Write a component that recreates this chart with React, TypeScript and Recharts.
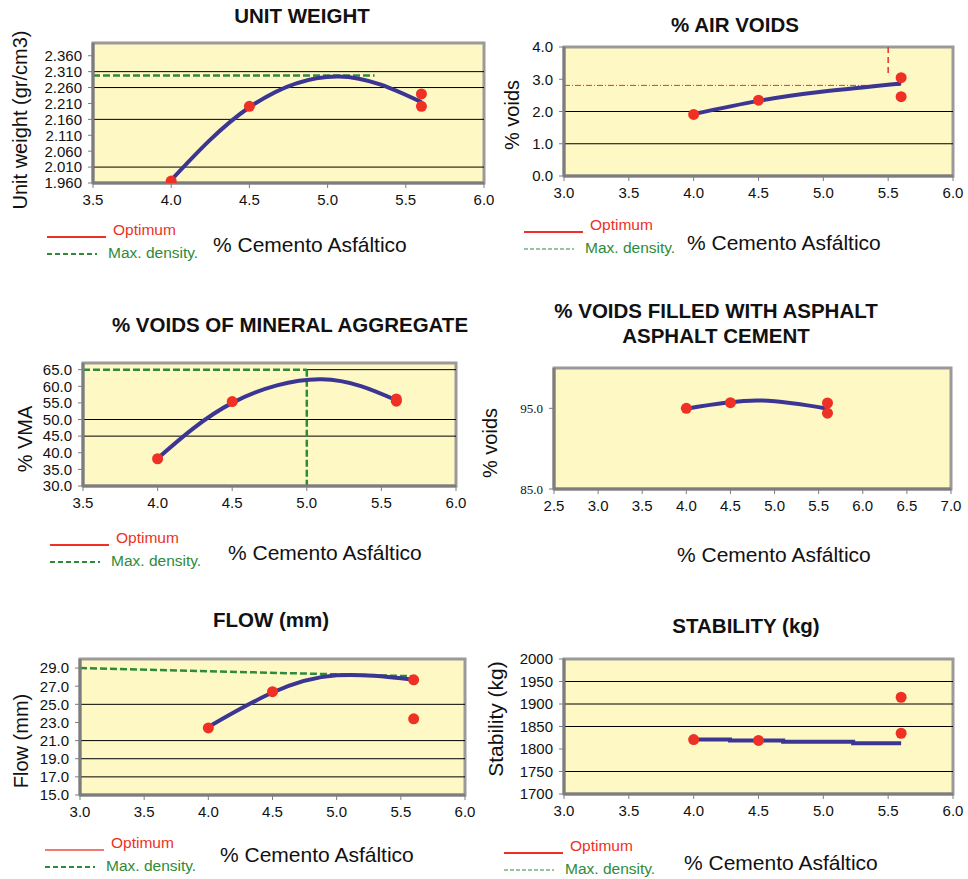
import React from 'react'
import { ComposedChart, Line, Scatter, XAxis, YAxis, CartesianGrid, ReferenceLine, ReferenceArea } from 'recharts'

const SANS = '"Liberation Sans", Arial, sans-serif'
const SERIF = '"Liberation Serif", "Times New Roman", serif'
const BG = '#FEF8C4'
const RED = '#EE3124'
const BLUE = '#3B3594'
const GREEN = '#2E8B3A'

// unit weight
const uwDotX = [4.0, 4.5, 5.6, 5.6]
const uwDotY = [1.966, 2.201, 2.24, 2.201]
const uwCurveX = [4.0, 4.5, 5.07, 5.6]
const uwCurveY = [1.969, 2.198, 2.295, 2.214]
const uwYTicks = [1.96, 2.01, 2.06, 2.11, 2.16, 2.21, 2.26, 2.31, 2.36]
const uwGrid = [2.01, 2.16, 2.26, 2.31]
const uwMaxDensity = 2.298

// air voids
const avDotX = [4.0, 4.5, 5.6, 5.6]
const avDotY = [1.91, 2.35, 3.05, 2.46]
const avCurveX = [4.0, 4.5, 5.0, 5.6]
const avCurveY = [1.92, 2.33, 2.62, 2.87]
const avYTicks = [0, 1, 2, 3, 4]
const avGrid = [1, 2]
const avOptimum = 2.81
const avOptimumX = 5.5

// VMA
const vmaDotX = [4.0, 4.5, 5.6, 5.6]
const vmaDotY = [38.2, 55.4, 55.5, 56.2]
const vmaCurveX = [4.0, 4.5, 5.1, 5.6]
const vmaCurveY = [38.3, 55.0, 62.1, 55.8]
const vmaYTicks = [30, 35, 40, 45, 50, 55, 60, 65]
const vmaGrid = [45, 50]
const vmaMaxDensity = 65
const vmaMaxX = 5.0

// VFA
const vfaDotX = [4.0, 4.5, 5.6, 5.6]
const vfaDotY = [95.0, 95.7, 95.66, 94.4]
const vfaCurveX = [4.0, 4.8, 5.6]
const vfaCurveY = [94.96, 95.98, 94.96]
const vfaYTicks = [85, 95]
const vfaXTicks = [2.5, 3, 3.5, 4, 4.5, 5, 5.5, 6, 6.5, 7]

// flow
const flDotX = [4.0, 4.5, 5.6, 5.6]
const flDotY = [22.4, 26.4, 27.7, 23.4]
const flCurveX = [4.0, 4.5, 5.0, 5.6]
const flCurveY = [22.5, 26.3, 28.2, 27.7]
const flYTicks = [15, 17, 19, 21, 23, 25, 27, 29]
const flGrid = [17, 19, 21, 25]
const flMaxX = [3.0, 5.6]
const flMaxY = [29.0, 28.1]

// stability
const stDotX = [4.0, 4.5, 5.6, 5.6]
const stDotY = [1821, 1819, 1915, 1835]
const stCurveX = [4.0, 4.28, 4.69, 5.23, 5.6]
const stCurveY = [1821, 1819, 1816, 1813, 1813]
const stYTicks = [1700, 1750, 1800, 1850, 1900, 1950, 2000]
const stGrid = [1750, 1850, 1900, 1950]

const xTicks30 = [3, 3.5, 4, 4.5, 5, 5.5, 6]
const xTicks35 = [3.5, 4, 4.5, 5, 5.5, 6]

const zip = (xs: number[], ys: number[]) => xs.map((x, i) => ({ x, y: ys[i] }))

type Pt = { x: number; y: number }
type Seg = { a: Pt; b: Pt; stroke: string; width: number; dash?: string }

interface PanelProps {
  left: number
  top: number
  width: number
  height: number
  xDomain: [number, number]
  xTicks: number[]
  yDomain: [number, number]
  yTicks: number[]
  yDigits: number
  grid: number[]
  segs?: Seg[]
  dots: Pt[]
  curve: Pt[]
  curveType?: 'natural' | 'stepAfter' | 'linear'
  serifY?: boolean
}

const YW = 80
const MT = 10
const MR = 12
const XH = 44

const dotShape = (props: any) => <circle cx={props.cx} cy={props.cy} r={5.5} fill={RED} />

function Panel(p: PanelProps) {
  const tickStyle = { fontSize: 15, fontFamily: SANS, fill: '#111' }
  const yTickStyle = p.serifY ? { fontSize: 13, fontFamily: SERIF, fill: '#111' } : tickStyle
  return (
    <div style={{ position: 'absolute', left: p.left - YW, top: p.top - MT }}>
      <ComposedChart
        width={YW + p.width + MR}
        height={MT + p.height + XH}
        margin={{ top: MT, right: MR, bottom: 0, left: 0 }}
      >
        <CartesianGrid horizontal={false} vertical={false} fill={BG} />
        {p.grid.map((v) => (
          <ReferenceLine key={v} y={v} stroke="#000" strokeWidth={1} />
        ))}
        {(p.segs || []).map((s, i) => (
          <ReferenceLine
            key={'s' + i}
            segment={[s.a, s.b]}
            stroke={s.stroke}
            strokeWidth={s.width}
            strokeDasharray={s.dash}
            ifOverflow="visible"
          />
        ))}
        <ReferenceArea
          x1={p.xDomain[0]}
          x2={p.xDomain[1]}
          y1={p.yDomain[0]}
          y2={p.yDomain[1]}
          fill="none"
          stroke="#9a9a9a"
          strokeWidth={3}
          ifOverflow="visible"
        />
        <XAxis
          type="number"
          dataKey="x"
          domain={p.xDomain}
          ticks={p.xTicks}
          interval={0}
          allowDataOverflow
          height={XH}
          tickFormatter={(v: number) => v.toFixed(1)}
          tick={tickStyle}
          tickSize={5}
          tickMargin={6}
          axisLine={{ stroke: '#7d7d7d', strokeWidth: 3 }}
          tickLine={{ stroke: '#7d7d7d' }}
        />
        <YAxis
          type="number"
          dataKey="y"
          domain={p.yDomain}
          ticks={p.yTicks}
          interval={0}
          allowDataOverflow
          width={YW}
          tickFormatter={(v: number) => v.toFixed(p.yDigits)}
          tick={yTickStyle}
          tickSize={5}
          tickMargin={6}
          axisLine={{ stroke: '#7d7d7d', strokeWidth: 3 }}
          tickLine={{ stroke: '#7d7d7d' }}
        />
        <Line
          data={p.curve}
          dataKey="y"
          type={p.curveType || 'natural'}
          stroke={BLUE}
          strokeWidth={4}
          dot={false}
          activeDot={false}
          isAnimationActive={false}
        />
        <Scatter data={p.dots} fill={RED} shape={dotShape} isAnimationActive={false} />
      </ComposedChart>
    </div>
  )
}

function LegendBox({ x, y, thinGreen, lightRed }: { x: number; y: number; thinGreen?: boolean; lightRed?: boolean }) {
  // x,y = start of the red line sample
  return (
    <g>
      <line x1={x} y1={y} x2={x + 59} y2={y} stroke={lightRed ? '#F07A70' : RED} strokeWidth={2} />
      <text x={x + 66} y={y - 2} fill={RED} fontSize={15.5} fontFamily={SANS}>
        Optimum
      </text>
      <line
        x1={x}
        y1={y + 17}
        x2={x + 50}
        y2={y + 17}
        stroke={GREEN}
        strokeWidth={thinGreen ? 1 : 2}
        strokeDasharray={thinGreen ? '4 2' : '5 3'}
      />
      <text x={x + 61} y={y + 21} fill={GREEN} fontSize={15.5} fontFamily={SANS}>
        Max. density.
      </text>
    </g>
  )
}

function Overlay() {
  const title = { fontSize: 20.5, fontWeight: 700, fontFamily: SANS, fill: '#111', textAnchor: 'middle' as const }
  const ylab = { fontSize: 20, fontFamily: SANS, fill: '#111', textAnchor: 'middle' as const }
  const xlab = { fontSize: 21, fontFamily: SANS, fill: '#111' }
  const xl = '% Cemento Asfáltico'
  return (
    <svg width={968} height={879} style={{ position: 'absolute', left: 0, top: 0, pointerEvents: 'none' }}>
      <text x={302} y={23} {...title}>UNIT WEIGHT</text>
      <text x={735} y={32} {...title}>% AIR VOIDS</text>
      <text x={290} y={332} {...title}>% VOIDS OF MINERAL AGGREGATE</text>
      <text x={716} y={318} {...title}>% VOIDS FILLED WITH ASPHALT</text>
      <text x={716} y={343} {...title}>ASPHALT CEMENT</text>
      <text x={271} y={627} {...title}>FLOW (mm)</text>
      <text x={746} y={633} {...title}>STABILITY (kg)</text>

      <text transform="translate(27,120) rotate(-90)" {...ylab}>Unit weight (gr/cm3)</text>
      <text transform="translate(519,115) rotate(-90)" {...ylab}>% voids</text>
      <text transform="translate(32,439) rotate(-90)" {...ylab}>% VMA</text>
      <text transform="translate(497,443) rotate(-90)" {...ylab}>% voids</text>
      <text transform="translate(28,741) rotate(-90)" {...ylab}>Flow (mm)</text>
      <text transform="translate(503,719) rotate(-90)" {...ylab} fontSize={21}>Stability (kg)</text>

      <text x={213} y={252} {...xlab}>{xl}</text>
      <text x={687} y={250} {...xlab}>{xl}</text>
      <text x={228} y={560} {...xlab}>{xl}</text>
      <text x={677} y={562} {...xlab}>{xl}</text>
      <text x={220} y={862} {...xlab}>{xl}</text>
      <text x={684} y={870} {...xlab}>{xl}</text>

      <LegendBox x={47} y={237} />
      <LegendBox x={524} y={232} thinGreen />
      <LegendBox x={50} y={545} />
      <LegendBox x={45} y={850} lightRed />
      <LegendBox x={504} y={853} thinGreen />
    </svg>
  )
}

export default function App() {
  return (
    <div style={{ position: 'absolute', left: 0, top: 0, width: 968, height: 879, background: '#fff', overflow: 'hidden' }}>
      <Panel
        left={93}
        top={43}
        width={391}
        height={140}
        xDomain={[3.5, 6]}
        xTicks={xTicks35}
        yDomain={[1.96, 2.4]}
        yTicks={uwYTicks}
        yDigits={3}
        grid={uwGrid}
        segs={[{ a: { x: 3.5, y: uwMaxDensity }, b: { x: 5.3, y: uwMaxDensity }, stroke: GREEN, width: 2.5, dash: '7 3' }]}
        dots={zip(uwDotX, uwDotY)}
        curve={zip(uwCurveX, uwCurveY)}
      />
      <Panel
        left={564}
        top={47}
        width={389}
        height={129}
        xDomain={[3, 6]}
        xTicks={xTicks30}
        yDomain={[0, 4]}
        yTicks={avYTicks}
        yDigits={1}
        grid={avGrid}
        segs={[
          { a: { x: 3, y: avOptimum }, b: { x: 5.6, y: avOptimum }, stroke: RED, width: 1, dash: '6 2 1 2' },
          { a: { x: avOptimumX, y: 4 }, b: { x: avOptimumX, y: 3.1 }, stroke: RED, width: 1.5, dash: '6 4' },
        ]}
        dots={zip(avDotX, avDotY)}
        curve={zip(avCurveX, avCurveY)}
      />
      <Panel
        left={83}
        top={363}
        width={373}
        height={123}
        xDomain={[3.5, 6]}
        xTicks={xTicks35}
        yDomain={[30, 67]}
        yTicks={vmaYTicks}
        yDigits={1}
        grid={vmaGrid}
        segs={[
          { a: { x: vmaMaxX, y: vmaMaxDensity }, b: { x: 6, y: vmaMaxDensity }, stroke: '#000', width: 1 },
          { a: { x: 3.5, y: vmaMaxDensity }, b: { x: vmaMaxX, y: vmaMaxDensity }, stroke: GREEN, width: 2.5, dash: '7 3' },
          { a: { x: vmaMaxX, y: vmaMaxDensity }, b: { x: vmaMaxX, y: 30 }, stroke: GREEN, width: 2.5, dash: '7 3' },
        ]}
        dots={zip(vmaDotX, vmaDotY)}
        curve={zip(vmaCurveX, vmaCurveY)}
      />
      <Panel
        left={554}
        top={368}
        width={397}
        height={121}
        xDomain={[2.5, 7]}
        xTicks={vfaXTicks}
        yDomain={[85, 100]}
        yTicks={vfaYTicks}
        yDigits={1}
        grid={[]}
        dots={zip(vfaDotX, vfaDotY)}
        curve={zip(vfaCurveX, vfaCurveY)}
        serifY
      />
      <Panel
        left={80}
        top={659}
        width={385}
        height={136}
        xDomain={[3, 6]}
        xTicks={xTicks30}
        yDomain={[15, 30]}
        yTicks={flYTicks}
        yDigits={1}
        grid={flGrid}
        segs={[
          { a: { x: flMaxX[0], y: flMaxY[0] }, b: { x: flMaxX[1], y: flMaxY[1] }, stroke: GREEN, width: 2.5, dash: '7 3' },
        ]}
        dots={zip(flDotX, flDotY)}
        curve={zip(flCurveX, flCurveY)}
      />
      <Panel
        left={564}
        top={659}
        width={389}
        height={135}
        xDomain={[3, 6]}
        xTicks={xTicks30}
        yDomain={[1700, 2000]}
        yTicks={stYTicks}
        yDigits={0}
        grid={stGrid}
        dots={zip(stDotX, stDotY)}
        curve={zip(stCurveX, stCurveY)}
        curveType="stepAfter"
      />
      <Overlay />
    </div>
  )
}
